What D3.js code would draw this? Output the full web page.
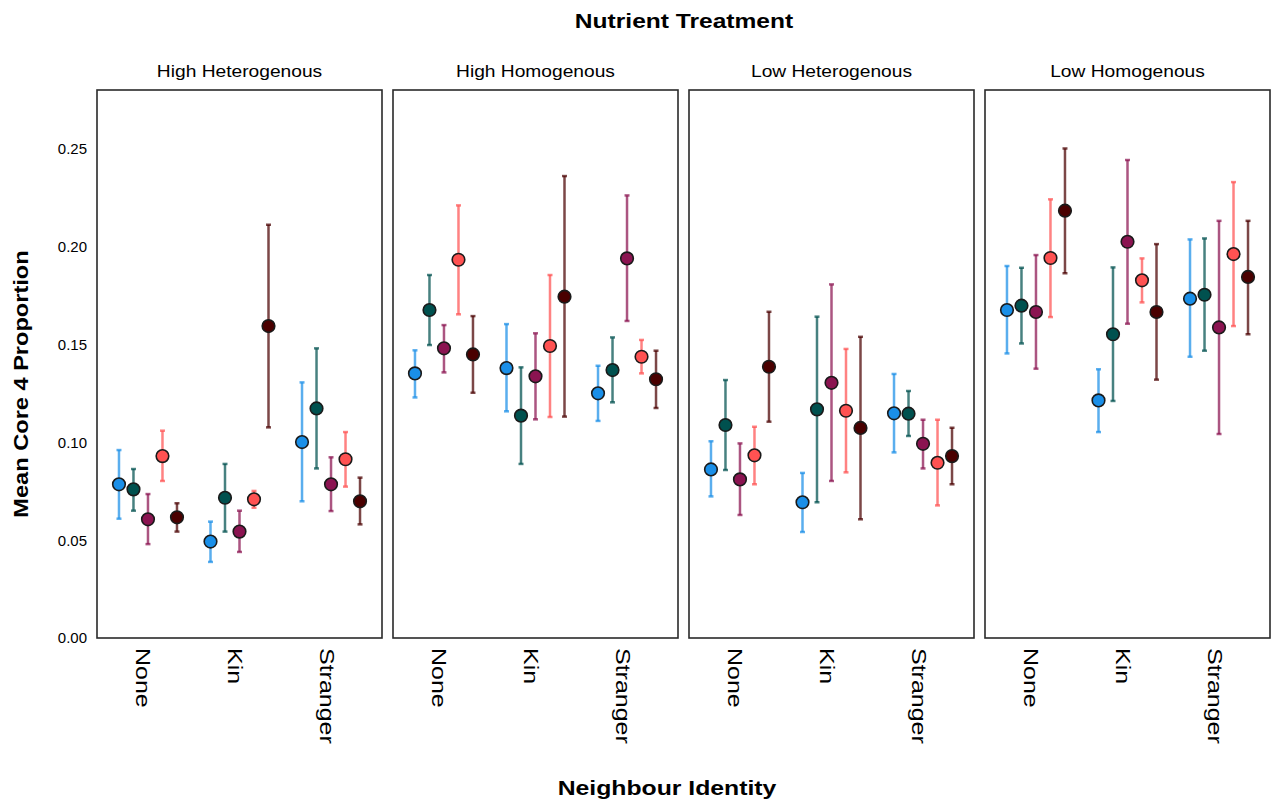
<!DOCTYPE html>
<html>
<head>
<meta charset="utf-8">
<script src="https://cdn.jsdelivr.net/npm/d3@7"></script>
<style>
  body { margin: 0; background: #fff; }
  text { font-family: 'Liberation Sans', Arial, sans-serif; fill: #000; }
</style>
</head>
<body>
<script>
// facets, categories and series
var panels = [ 'High Heterogenous', 'High Homogenous', 'Low Heterogenous', 'Low Homogenous' ],
    neighbours = [ 'None', 'Kin', 'Stranger' ],
    seriesKeys = [ 's1', 's2', 's3', 's4', 's5' ],
    seriesColors = [ '#1a8fe8', '#00514f', '#8b1451', '#ff5252', '#4a0000' ],
    yTicks = [ 0, 0.05, 0.10, 0.15, 0.20, 0.25 ];

// means, lower and upper error bounds; rows = None, Kin, Stranger; cols = series
var meanHHet = [ [ 0.0786, 0.0760, 0.0607, 0.0930, 0.0617 ],
                 [ 0.0493, 0.0717, 0.0544, 0.0709, 0.1595 ],
                 [ 0.1002, 0.1174, 0.0786, 0.0914, 0.0699 ] ],
    loHHet   = [ [ 0.0610, 0.0651, 0.0480, 0.0803, 0.0544 ],
                 [ 0.0389, 0.0544, 0.0440, 0.0666, 0.1077 ],
                 [ 0.0699, 0.0867, 0.0649, 0.0774, 0.0581 ] ],
    hiHHet   = [ [ 0.0961, 0.0864, 0.0736, 0.1060, 0.0689 ],
                 [ 0.0595, 0.0890, 0.0651, 0.0752, 0.2113 ],
                 [ 0.1307, 0.1481, 0.0924, 0.1053, 0.0820 ] ];

var meanHHom = [ [ 0.1353, 0.1677, 0.1481, 0.1934, 0.1450 ],
                 [ 0.1380, 0.1137, 0.1338, 0.1493, 0.1745 ],
                 [ 0.1251, 0.1370, 0.1941, 0.1438, 0.1323 ] ],
    loHHom   = [ [ 0.1230, 0.1498, 0.1358, 0.1655, 0.1254 ],
                 [ 0.1159, 0.0890, 0.1118, 0.1130, 0.1132 ],
                 [ 0.1110, 0.1205, 0.1621, 0.1353, 0.1176 ] ],
    hiHHom   = [ [ 0.1471, 0.1856, 0.1600, 0.2212, 0.1646 ],
                 [ 0.1605, 0.1384, 0.1558, 0.1856, 0.2362 ],
                 [ 0.1392, 0.1537, 0.2263, 0.1524, 0.1469 ] ];

var meanLHet = [ [ 0.0862, 0.1089, 0.0811, 0.0934, 0.1387 ],
                 [ 0.0694, 0.1169, 0.1305, 0.1162, 0.1074 ],
                 [ 0.1149, 0.1147, 0.0993, 0.0896, 0.0930 ] ],
    loLHet   = [ [ 0.0724, 0.0859, 0.0629, 0.0786, 0.1106 ],
                 [ 0.0542, 0.0694, 0.0803, 0.0847, 0.0607 ],
                 [ 0.0949, 0.1033, 0.0867, 0.0678, 0.0786 ] ],
    hiLHet   = [ [ 0.1006, 0.1319, 0.0995, 0.1080, 0.1668 ],
                 [ 0.0844, 0.1643, 0.1808, 0.1478, 0.1540 ],
                 [ 0.1350, 0.1263, 0.1116, 0.1116, 0.1075 ] ];

var meanLHom = [ [ 0.1677, 0.1699, 0.1667, 0.1943, 0.2185 ],
                 [ 0.1215, 0.1553, 0.2026, 0.1829, 0.1667 ],
                 [ 0.1735, 0.1755, 0.1588, 0.1963, 0.1846 ] ],
    loLHom   = [ [ 0.1455, 0.1506, 0.1377, 0.1641, 0.1865 ],
                 [ 0.1053, 0.1212, 0.1607, 0.1716, 0.1321 ],
                 [ 0.1438, 0.1469, 0.1043, 0.1595, 0.1553 ] ],
    hiLHom   = [ [ 0.1902, 0.1893, 0.1958, 0.2243, 0.2503 ],
                 [ 0.1374, 0.1895, 0.2444, 0.1941, 0.2014 ],
                 [ 0.2038, 0.2043, 0.2133, 0.2331, 0.2133 ] ];

var panelData = [
    { mean: meanHHet, lo: loHHet, hi: hiHHet },
    { mean: meanHHom, lo: loHHom, hi: hiHHom },
    { mean: meanLHet, lo: loLHet, hi: hiLHet },
    { mean: meanLHom, lo: loLHom, hi: hiLHom }
];

var svgW = 1277, svgH = 808,
    left0 = 97, panelStep = 296, panelW = 285,
    plotTop = 90, plotBottom = 638;

var svg = d3.select( 'body' ).append( 'svg' )
    .attr( 'width', svgW )
    .attr( 'height', svgH );

var y = d3.scaleLinear().domain( [ 0, 0.2802 ] ).range( [ plotBottom, plotTop ] );

var x = d3.scalePoint().domain( neighbours ).range( [ 0, panelW ] ).padding( 0.557 );

var xs = d3.scalePoint().domain( seriesKeys ).range( [ -29, 29 ] );

// Stretched text helper (reference fonts are wider than Liberation Sans)
function label( g, tx, ty, rot, sx, size, weight, str ) {
    return g.append( 'text' )
        .attr( 'transform', 'translate(' + tx + ',' + ty + ') rotate(' + rot + ') scale(' + sx + ',1)' )
        .attr( 'text-anchor', 'middle' )
        .style( 'font-size', size + 'px' )
        .style( 'font-weight', weight )
        .text( str );
}

label( svg, 684, 28, 0, 1.17, 21, 'bold', 'Nutrient Treatment' );
label( svg, 667, 795, 0, 1.18, 21, 'bold', 'Neighbour Identity' );
label( svg, 28, 384, -90, 1.18, 20, 'bold', 'Mean Core 4 Proportion' );

panels.forEach( function( name, pdx ) {
    var px = left0 + pdx * panelStep,
        d = panelData[ pdx ],
        g = svg.append( 'g' ).attr( 'transform', 'translate(' + px + ',0)' );

    label( g, panelW / 2, 77, 0, 1.2, 16, 'normal', name );

    // x axis, labels rotated
    var xa = g.append( 'g' )
        .attr( 'transform', 'translate(0,' + plotBottom + ')' )
        .call( d3.axisBottom( x ).tickSize( 0 ) );
    xa.select( '.domain' ).remove();
    xa.selectAll( 'text' )
        .attr( 'x', null ).attr( 'y', null ).attr( 'dy', null )
        .attr( 'text-anchor', 'start' )
        .attr( 'fill', '#000' )
        .style( 'font-size', '20px' )
        .style( 'font-family', "'Liberation Sans', Arial, sans-serif" )
        .attr( 'transform', 'translate(-12,10) rotate(90) scale(1.25,1)' );

    if( pdx === 0 ) {
        var ya = g.append( 'g' )
            .call( d3.axisLeft( y ).tickValues( yTicks ).tickFormat( d3.format( '.2f' ) ).tickSize( 0 ).tickPadding( 10 ) );
        ya.select( '.domain' ).remove();
        ya.selectAll( 'text' )
            .attr( 'fill', '#000' )
            .style( 'font-size', '15px' )
            .style( 'font-family', "'Liberation Sans', Arial, sans-serif" );
    }

    var rows = [];
    neighbours.forEach( function( nb, ndx ) {
        seriesKeys.forEach( function( sk, sdx ) {
            rows.push( {
                cx: x( nb ) + xs( sk ),
                mean: d.mean[ ndx ][ sdx ],
                lo: d.lo[ ndx ][ sdx ],
                hi: d.hi[ ndx ][ sdx ],
                color: seriesColors[ sdx ]
            } );
        } );
    } );

    var bars = g.append( 'g' ).selectAll( 'g' ).data( rows ).enter().append( 'g' )
        .attr( 'stroke', function( r ) { return r.color; } )
        .attr( 'stroke-opacity', 0.72 );
    bars.append( 'line' )
        .attr( 'x1', function( r ) { return r.cx; } )
        .attr( 'x2', function( r ) { return r.cx; } )
        .attr( 'y1', function( r ) { return y( r.lo ); } )
        .attr( 'y2', function( r ) { return y( r.hi ); } )
        .attr( 'stroke-width', 2.5 );
    [ 'lo', 'hi' ].forEach( function( k ) {
        bars.append( 'line' )
            .attr( 'x1', function( r ) { return r.cx - 2.5; } )
            .attr( 'x2', function( r ) { return r.cx + 2.5; } )
            .attr( 'y1', function( r ) { return y( r[ k ] ); } )
            .attr( 'y2', function( r ) { return y( r[ k ] ); } )
            .attr( 'stroke-width', 2.5 );
    } );

    g.append( 'g' ).selectAll( 'circle' ).data( rows ).enter().append( 'circle' )
        .attr( 'cx', function( r ) { return r.cx; } )
        .attr( 'cy', function( r ) { return y( r.mean ); } )
        .attr( 'r', 6.3 )
        .attr( 'fill', function( r ) { return r.color; } )
        .attr( 'stroke', '#1a1a1a' )
        .attr( 'stroke-width', 1.6 );

    // panel frame
    g.append( 'rect' )
        .attr( 'x', 0 ).attr( 'y', plotTop )
        .attr( 'width', panelW ).attr( 'height', plotBottom - plotTop )
        .attr( 'fill', 'none' )
        .attr( 'stroke', '#2a2a2a' )
        .attr( 'stroke-width', 1.6 );
} );
</script>
</body>
</html>
